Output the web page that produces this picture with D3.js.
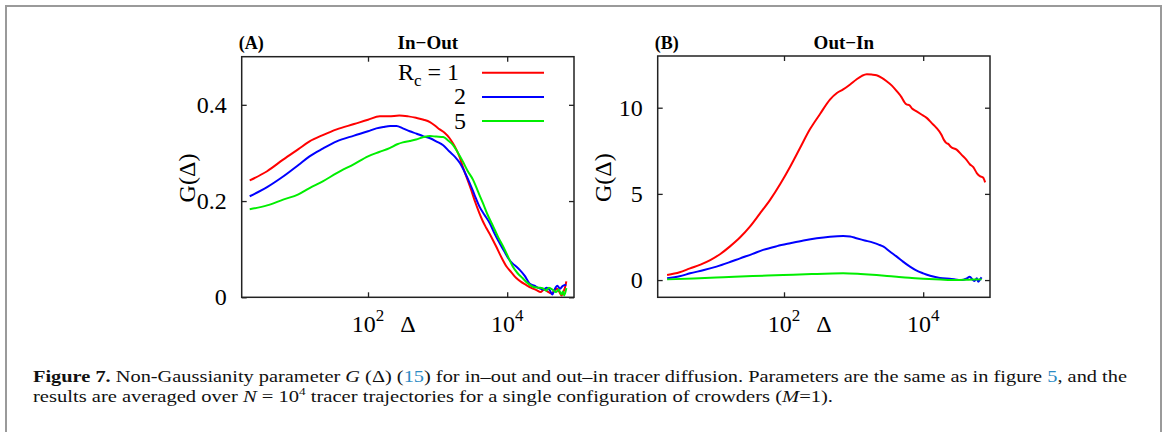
<!DOCTYPE html>
<html>
<head>
<meta charset="utf-8">
<script src="https://cdn.jsdelivr.net/npm/d3@7"></script>
<style>
  body { margin: 0; background: #fff; }
  svg { display: block; }
</style>
</head>
<body>
<div id="chart"></div>
<script>
// values: [log10(Delta), G(Delta)]
const inOutR1 = [[0.30,0.243],[0.55,0.262],[0.78,0.286],[1.0,0.308],[1.16,0.324],[1.35,0.337],[1.55,0.349],[1.8,0.360],[2.0,0.369],[2.17,0.376],[2.3,0.376],[2.45,0.378],[2.58,0.376],[2.69,0.373],[2.8,0.369],[2.89,0.364],[2.96,0.357],[3.03,0.349],[3.1,0.342],[3.17,0.331],[3.22,0.320],[3.27,0.307],[3.32,0.290],[3.36,0.272],[3.42,0.248],[3.48,0.224],[3.54,0.198],[3.60,0.175],[3.65,0.158],[3.70,0.144],[3.77,0.126],[3.84,0.106],[3.91,0.085],[3.99,0.064],[4.06,0.052],[4.13,0.040],[4.2,0.032],[4.27,0.026],[4.34,0.020],[4.42,0.015],[4.48,0.011],[4.53,0.016],[4.58,0.012],[4.63,0.008],[4.68,0.014],[4.72,0.018],[4.75,0.011],[4.78,0.004],[4.81,0.012],[4.83,0.020],[4.85,0.033]];
const inOutR2 = [[0.30,0.210],[0.55,0.229],[0.78,0.251],[1.0,0.275],[1.16,0.293],[1.35,0.309],[1.55,0.324],[1.8,0.336],[2.0,0.345],[2.12,0.351],[2.22,0.354],[2.32,0.356],[2.41,0.356],[2.5,0.351],[2.60,0.345],[2.7,0.340],[2.79,0.335],[2.9,0.330],[2.98,0.324],[3.08,0.316],[3.17,0.303],[3.25,0.292],[3.32,0.279],[3.39,0.260],[3.46,0.238],[3.53,0.213],[3.60,0.189],[3.67,0.172],[3.75,0.154],[3.82,0.132],[3.89,0.113],[3.96,0.095],[4.03,0.078],[4.08,0.070],[4.13,0.064],[4.18,0.057],[4.25,0.045],[4.32,0.029],[4.39,0.024],[4.46,0.019],[4.52,0.016],[4.57,0.020],[4.61,0.015],[4.65,0.006],[4.68,0.016],[4.72,0.024],[4.76,0.018],[4.8,0.024],[4.85,0.026]];
const inOutR5 = [[0.30,0.183],[0.55,0.191],[0.78,0.203],[1.0,0.214],[1.16,0.227],[1.35,0.241],[1.55,0.258],[1.8,0.277],[2.0,0.293],[2.16,0.302],[2.31,0.310],[2.42,0.318],[2.50,0.322],[2.6,0.325],[2.69,0.328],[2.8,0.333],[2.89,0.335],[2.98,0.334],[3.08,0.333],[3.15,0.326],[3.22,0.317],[3.29,0.301],[3.36,0.283],[3.43,0.263],[3.51,0.244],[3.58,0.220],[3.65,0.196],[3.72,0.171],[3.80,0.147],[3.87,0.125],[3.94,0.106],[4.01,0.085],[4.08,0.064],[4.15,0.050],[4.22,0.040],[4.29,0.030],[4.37,0.022],[4.44,0.020],[4.51,0.019],[4.56,0.014],[4.6,0.020],[4.66,0.015],[4.7,0.011],[4.74,0.016],[4.78,0.006],[4.8,0.012],[4.82,0.004],[4.85,0.019]];

const outInR1 = [[0.32,0.29],[0.5,0.45],[0.65,0.68],[0.8,0.90],[0.94,1.16],[1.08,1.50],[1.22,1.94],[1.37,2.48],[1.51,3.10],[1.65,3.84],[1.80,4.65],[1.95,5.60],[2.09,6.59],[2.23,7.66],[2.37,8.73],[2.52,9.65],[2.66,10.47],[2.76,10.85],[2.85,11.06],[2.95,11.35],[3.04,11.64],[3.12,11.85],[3.19,11.94],[3.26,11.92],[3.33,11.88],[3.40,11.74],[3.47,11.55],[3.55,11.28],[3.62,10.96],[3.69,10.60],[3.73,10.32],[3.76,10.19],[3.8,10.15],[3.84,9.95],[3.90,9.80],[3.97,9.62],[4.05,9.41],[4.12,9.12],[4.19,8.83],[4.26,8.45],[4.30,8.12],[4.33,7.96],[4.36,7.90],[4.4,7.72],[4.48,7.57],[4.55,7.28],[4.62,6.99],[4.67,6.72],[4.72,6.55],[4.77,6.21],[4.82,6.02],[4.86,5.95],[4.89,5.67]];
const outInR2 = [[0.32,0.10],[0.5,0.22],[0.65,0.39],[0.85,0.58],[1.03,0.78],[1.2,1.01],[1.37,1.26],[1.55,1.52],[1.70,1.75],[1.9,1.97],[2.09,2.14],[2.28,2.30],[2.47,2.43],[2.66,2.52],[2.85,2.56],[2.95,2.53],[3.04,2.43],[3.16,2.30],[3.28,2.17],[3.36,2.06],[3.43,1.94],[3.52,1.66],[3.62,1.36],[3.71,1.07],[3.81,0.78],[3.9,0.56],[4.00,0.39],[4.1,0.25],[4.19,0.16],[4.28,0.10],[4.38,0.08],[4.46,0.04],[4.53,0.0],[4.58,0.02],[4.62,0.08],[4.67,0.19],[4.71,0.02],[4.74,-0.05],[4.77,0.10],[4.79,-0.10],[4.82,0.05],[4.84,0.16]];
const outInR5 = [[0.32,0.04],[0.7,0.09],[1.13,0.16],[1.55,0.23],[1.99,0.29],[2.4,0.35],[2.85,0.39],[3.1,0.35],[3.33,0.29],[3.48,0.24],[3.62,0.19],[3.8,0.13],[4.00,0.08],[4.25,0.03],[4.48,0.0],[4.65,0.02],[4.84,0.04]];

const seriesNames = ["1", "2", "5"];
const seriesColors = ["#ff0000", "#0000ff", "#00ee00"];

const xTicks = [1e2, 1e4];
const yTicksA = [0, 0.2, 0.4];
const yTicksB = [0, 5, 10];

const width = 1166, height = 432;
const serif = "'Liberation Serif', 'Times New Roman', serif";

const svg = d3.select("#chart").append("svg")
    .attr("width", width)
    .attr("height", height)
    .style("font-family", serif);

// grey frame round the figure
svg.append("rect")
    .attr("x", 6).attr("y", 6)
    .attr("width", 1155).attr("height", 450)
    .attr("fill", "none")
    .attr("stroke", "#9a9a9a")
    .attr("stroke-width", 2);

function drawPanel(opts) {
    const { left, top, right, bottom, yDomain, yTicks, yFmt, series, tag, title } = opts;

    const x = d3.scaleLog().domain([Math.pow(10, 0.185), Math.pow(10, 4.96)]).range([left, right]);
    const y = d3.scaleLinear().domain(yDomain).range([bottom, top]);

    const g = svg.append("g");

    // curves
    const line = d3.line()
        .curve(d3.curveMonotoneX)
        .x(d => x(Math.pow(10, d[0])))
        .y(d => y(d[1]));

    series.forEach((s, i) => {
        g.append("path")
            .datum(s)
            .attr("fill", "none")
            .attr("stroke", seriesColors[i])
            .attr("stroke-width", 2)
            .attr("stroke-linejoin", "round")
            .attr("d", line);
    });

    // inward ticks on all four sides
    const axisStyle = sel => {
        sel.select(".domain").remove();
        sel.selectAll("line").attr("stroke", "#222").attr("stroke-width", 1.3);
    };
    g.append("g").attr("transform", `translate(0,${bottom})`)
        .call(d3.axisBottom(x).tickValues(xTicks).tickSize(-5).tickFormat(""))
        .call(axisStyle);
    g.append("g").attr("transform", `translate(0,${top})`)
        .call(d3.axisTop(x).tickValues(xTicks).tickSize(-5).tickFormat(""))
        .call(axisStyle);
    g.append("g").attr("transform", `translate(${right},0)`)
        .call(d3.axisRight(y).tickValues(yTicks).tickSize(-5).tickFormat(""))
        .call(axisStyle);
    const yAxis = g.append("g").attr("transform", `translate(${left},0)`)
        .call(d3.axisLeft(y).tickValues(yTicks).tickSize(-5).tickPadding(15).tickFormat(yFmt))
        .call(axisStyle);
    yAxis.selectAll("text")
        .attr("font-family", serif)
        .attr("font-size", 24)
        .attr("fill", "#000");

    // x tick labels 10^n
    xTicks.forEach(t => {
        const txt = g.append("text")
            .attr("x", x(t))
            .attr("y", bottom + 35)
            .attr("text-anchor", "middle")
            .attr("font-size", 24);
        txt.append("tspan").text("10");
        txt.append("tspan").attr("dy", -11).attr("font-size", 17).text(Math.round(Math.log10(t)));
    });
    // x axis label
    g.append("text")
        .attr("x", x(1e2) + 40)
        .attr("y", bottom + 35)
        .attr("text-anchor", "middle")
        .attr("font-size", 24)
        .text("\u0394");

    // y axis label
    g.append("text")
        .attr("transform", `translate(${left - 47},${(top + bottom) / 2 + 1}) rotate(-90)`)
        .attr("text-anchor", "middle")
        .attr("font-size", 24)
        .text("G(\u0394)");

    // frame
    g.append("rect")
        .attr("x", left).attr("y", top)
        .attr("width", right - left).attr("height", bottom - top)
        .attr("fill", "none")
        .attr("stroke", "#222")
        .attr("stroke-width", 1.5);

    // panel tag and title
    g.append("text")
        .attr("x", left - 3).attr("y", 49)
        .attr("font-size", 18).attr("font-weight", "bold")
        .text(tag);
    g.append("text")
        .attr("x", (left + right) / 2 + 20).attr("y", 49)
        .attr("text-anchor", "middle")
        .attr("font-size", 19).attr("font-weight", "bold")
        .text(title);

    return { x, y, g };
}

const fmtA = d => d === 0 ? "0" : d3.format(".1f")(d);
const fmtB = d3.format("d");

const pA = drawPanel({
    left: 241.7, top: 56.7, right: 574, bottom: 297.3,
    yDomain: [0, 0.5], yTicks: yTicksA, yFmt: fmtA,
    series: [inOutR1, inOutR2, inOutR5], tag: "(A)", title: "In\u2212Out"
});
drawPanel({
    left: 657.7, top: 56, right: 990, bottom: 297.3,
    yDomain: [-1, 13], yTicks: yTicksB, yFmt: fmtB,
    series: [outInR1, outInR2, outInR5], tag: "(B)", title: "Out\u2212In"
});

// legend in panel A
const legend = pA.g.append("g");
seriesNames.forEach((name, i) => {
    const ly = 72.7 + i * 24.2;
    legend.append("line")
        .attr("x1", 482).attr("x2", 544)
        .attr("y1", ly).attr("y2", ly)
        .attr("stroke", seriesColors[i])
        .attr("stroke-width", 2);
    const t = legend.append("text")
        .attr("x", i === 0 ? 459 : 466)
        .attr("y", ly + 7.5)
        .attr("text-anchor", "end")
        .attr("font-size", 24);
    if (i === 0) {
        t.append("tspan").text("R");
        t.append("tspan").attr("dy", 6).attr("font-size", 17).text("c");
        t.append("tspan").attr("dy", -6).text(" = " + name);
    } else {
        t.text(name);
    }
});

// caption
const cap = svg.append("g").attr("font-size", 17).attr("fill", "#111");
const line1 = cap.append("text")
    .attr("x", 33).attr("y", 382)
    .attr("textLength", 1094)
    .attr("lengthAdjust", "spacingAndGlyphs");
line1.append("tspan").attr("font-weight", "bold").text("Figure 7. ");
line1.append("tspan").text("Non-Gaussianity parameter ");
line1.append("tspan").attr("font-style", "italic").text("G");
line1.append("tspan").text(" (\u0394) (");
line1.append("tspan").attr("fill", "#2a8ac4").text("15");
line1.append("tspan").text(") for in\u2013out and out\u2013in tracer diffusion. Parameters are the same as in figure ");
line1.append("tspan").attr("fill", "#2a8ac4").text("5");
line1.append("tspan").text(", and the");

const line2 = cap.append("text")
    .attr("x", 33).attr("y", 402)
    .attr("textLength", 800)
    .attr("lengthAdjust", "spacingAndGlyphs");
line2.append("tspan").text("results are averaged over ");
line2.append("tspan").attr("font-style", "italic").text("N");
line2.append("tspan").text(" = 10");
line2.append("tspan").attr("dy", -7).attr("font-size", 11).text("4");
line2.append("tspan").attr("dy", 7).text(" tracer trajectories for a single configuration of crowders (");
line2.append("tspan").attr("font-style", "italic").text("M");
line2.append("tspan").text("=1).");
</script>
</body>
</html>
